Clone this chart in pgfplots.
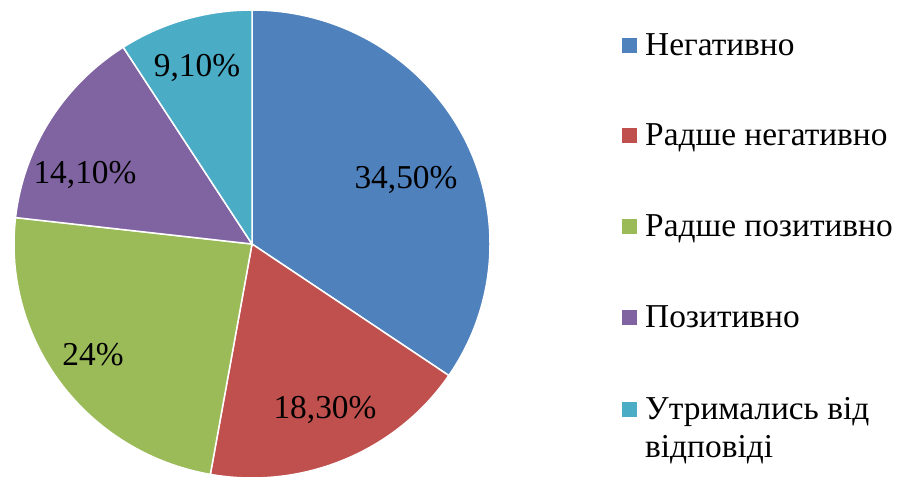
\documentclass[border=0pt]{standalone}
\usepackage{pgfplots}
\pgfplotsset{compat=1.18}
\usepackage{fontspec}
\setmainfont{Liberation Serif}
\definecolor{c1}{HTML}{4F81BD}
\definecolor{c2}{HTML}{C0504D}
\definecolor{c3}{HTML}{9BBB59}
\definecolor{c4}{HTML}{8064A2}
\definecolor{c5}{HTML}{4BACC6}
\begin{document}
\fontsize{33.5}{40}\selectfont
\begin{tikzpicture}
\begin{axis}[width=901bp,height=480bp,scale only axis,
  xmin=0,xmax=901,ymin=0,ymax=480,hide axis,clip=false]
\path (axis cs:0,0) rectangle (axis cs:901,480);
\def\cx{252}\def\cy{236}\def\rx{238}\def\ry{234}
\gdef\startang{90}
\foreach \v/\c in {34.5/c1,18.3/c2,24/c3,14.1/c4,9.1/c5} {
  \pgfmathsetmacro{\endang}{\startang-3.6*\v}
  \pgfmathsetmacro{\sx}{\cx+\rx*cos(\startang)}
  \pgfmathsetmacro{\sy}{\cy+\ry*sin(\startang)}
  \edef\temp{\noexpand\fill[\c,draw=white,line width=1.5bp] (axis cs:\cx,\cy) -- (axis cs:\sx,\sy) arc[start angle=\startang,end angle=\endang,x radius=\rx bp,y radius=\ry bp] -- cycle;}
  \temp
  \xdef\startang{\endang}
}
\node at (axis cs:406,300) {34,50\%};
\node at (axis cs:325,70) {18,30\%};
\node at (axis cs:93,125) {24\%};
\node at (axis cs:85,305) {14,10\%};
\node at (axis cs:197,412) {9,10\%};
% legend
\foreach \yb/\c/\t in {424/c1/{Негативно},334/c2/{Радше негативно},243/c3/{Радше позитивно},152/c4/{Позитивно},60/c5/{Утримались від}} {
  \edef\temp{\noexpand\fill[\c] (axis cs:622,\yb+3) rectangle (axis cs:637,\yb+18);
    \noexpand\node[anchor=base west,inner sep=0pt] at (axis cs:645,\yb) {\t};}
  \temp
}
\node[anchor=base west,inner sep=0pt] at (axis cs:645,22) {відповіді};
\end{axis}
\end{tikzpicture}
\end{document}
